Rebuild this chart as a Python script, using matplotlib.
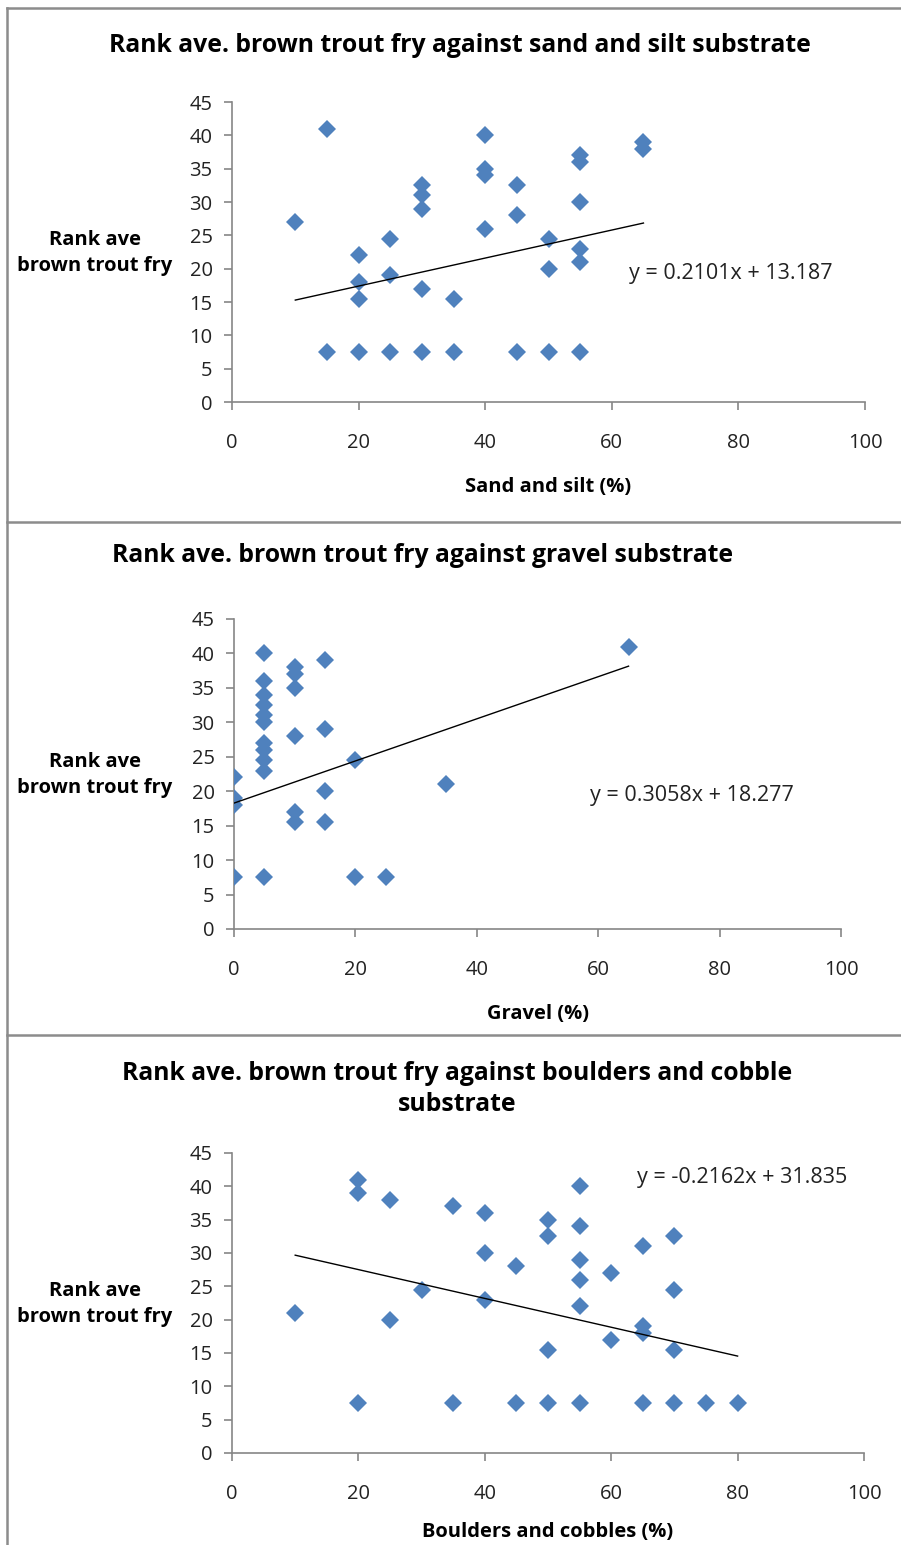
import numpy as np
import matplotlib
matplotlib.use('Agg')
import matplotlib.pyplot as plt
from matplotlib.lines import Line2D

plt.rcParams['font.family'] = ['Open Sans', 'DejaVu Sans']

# sand and silt panel
sand_x = [10, 15, 15, 20, 20, 20, 20, 25, 25, 25, 30, 30, 30, 30, 30, 35, 35,
          40, 40, 40, 40, 45, 45, 45, 50, 50, 50, 55, 55, 55, 55, 55, 55, 65, 65]
sand_y = [27, 41, 7.5, 22, 18, 15.5, 7.5, 24.5, 19, 7.5, 32.5, 31, 29, 17, 7.5, 15.5, 7.5,
          40, 35, 34, 26, 32.5, 28, 7.5, 24.5, 20, 7.5, 37, 36, 30, 23, 21, 7.5, 39, 38]
sand_fit = (0.2101, 13.187)

# gravel panel
gravel_x = [0, 0, 0, 0,
            5, 5, 5, 5, 5, 5, 5, 5, 5, 5, 5,
            10, 10, 10, 10, 10, 10,
            15, 15, 15, 15,
            20, 20, 25, 35, 65]
gravel_y = [22, 19, 18, 7.5,
            40, 36, 34, 32.5, 31, 30, 27, 26, 24.5, 23, 7.5,
            38, 37, 35, 28, 17, 15.5,
            39, 29, 20, 15.5,
            24.5, 7.5, 7.5, 21, 41]
gravel_fit = (0.3058, 18.277)

# boulders and cobbles panel
boulder_x = [10, 20, 20, 20, 25, 25, 30, 35, 35, 40, 40, 40, 45, 45,
             50, 50, 50, 50, 55, 55, 55, 55, 55, 55, 60, 60,
             65, 65, 65, 65, 70, 70, 70, 70, 75, 80]
boulder_y = [21, 41, 39, 7.5, 38, 20, 24.5, 37, 7.5, 36, 30, 23, 28, 7.5,
             35, 32.5, 15.5, 7.5, 40, 34, 29, 26, 22, 7.5, 27, 17,
             31, 19, 18, 7.5, 32.5, 24.5, 15.5, 7.5, 7.5, 7.5]
boulder_fit = (-0.2162, 31.835)

titles = ['Rank ave. brown trout fry against sand and silt substrate',
          'Rank ave. brown trout fry against gravel substrate',
          'Rank ave. brown trout fry against boulders and cobble\nsubstrate']
xlabels = ['Sand and silt (%)', 'Gravel (%)', 'Boulders and cobbles (%)']
ylabel = 'Rank ave\nbrown trout fry'
equations = ['y = 0.2101x + 13.187', 'y = 0.3058x + 18.277', 'y = -0.2162x + 31.835']

W, H = 901, 1545
fig = plt.figure(figsize=(W / 100, H / 100), dpi=100)

def fx(px):
    return px / W

def fy(py):
    return 1 - py / H

# pixel layout of each panel: axes box, title, ylabel centre, xlabel, equation pos
layout = [
    dict(ax=(232, 102, 865, 402), title=(460, 45), ylab=(95, 253), xlab=(548, 487), eq=(629, 273)),
    dict(ax=(234, 619, 841, 929), title=(423, 556), ylab=(95, 775), xlab=(538, 1014), eq=(590, 796)),
    dict(ax=(232, 1153, 864, 1453), title=(457, 1089), ylab=(95, 1304), xlab=(548, 1532), eq=(637, 1178)),
]
panels = [(sand_x, sand_y, sand_fit), (gravel_x, gravel_y, gravel_fit), (boulder_x, boulder_y, boulder_fit)]

grey = '#868686'
blue = '#4F81BD'

for i, (xs, ys, fit) in enumerate(panels):
    L = layout[i]
    x0, y0, x1, y1 = L['ax']
    ax = fig.add_axes([fx(x0), fy(y1), fx(x1 - x0), (y1 - y0) / H])
    ax.plot(xs, ys, ls='none', marker='D', ms=9, mew=0, color=blue, zorder=3)
    xf = np.array([min(xs), max(xs)])
    ax.plot(xf, fit[0] * xf + fit[1], color='black', lw=1, zorder=4)
    ax.set_xlim(0, 100)
    ax.set_ylim(0, 45)
    ax.set_xticks(range(0, 101, 20))
    ax.set_yticks(range(0, 46, 5))
    for s in ['top', 'right']:
        ax.spines[s].set_visible(False)
    for s in ['left', 'bottom']:
        ax.spines[s].set_color(grey)
        ax.spines[s].set_linewidth(1.2)
    ax.tick_params(axis='both', color=grey, length=6, width=1.2, labelsize=14.5, labelcolor='#222222')
    ax.tick_params(axis='x', pad=16)
    ax.tick_params(axis='y', pad=8)

    fig.text(fx(L['title'][0]), fy(L['title'][1]), titles[i], ha='center', va='center',
             fontsize=17.8, fontweight='bold', linespacing=1.35)
    fig.text(fx(L['ylab'][0]), fy(L['ylab'][1]), ylabel, ha='center', va='center',
             fontsize=14.5, fontweight='bold', linespacing=1.35)
    fig.text(fx(L['xlab'][0]), fy(L['xlab'][1]), xlabels[i], ha='center', va='center',
             fontsize=14.5, fontweight='bold')
    fig.text(fx(L['eq'][0]), fy(L['eq'][1]), equations[i], ha='left', va='center',
             fontsize=15.5, color='#222222')

# chart borders
bc = '#8c8c8c'
fig.add_artist(Line2D([fx(7), fx(7)], [fy(8), 0], color=bc, lw=1.8))
for yy in [8, 522, 1035]:
    fig.add_artist(Line2D([fx(7), 1], [fy(yy), fy(yy)], color=bc, lw=1.8))

fig.savefig('out.png', dpi=100)
